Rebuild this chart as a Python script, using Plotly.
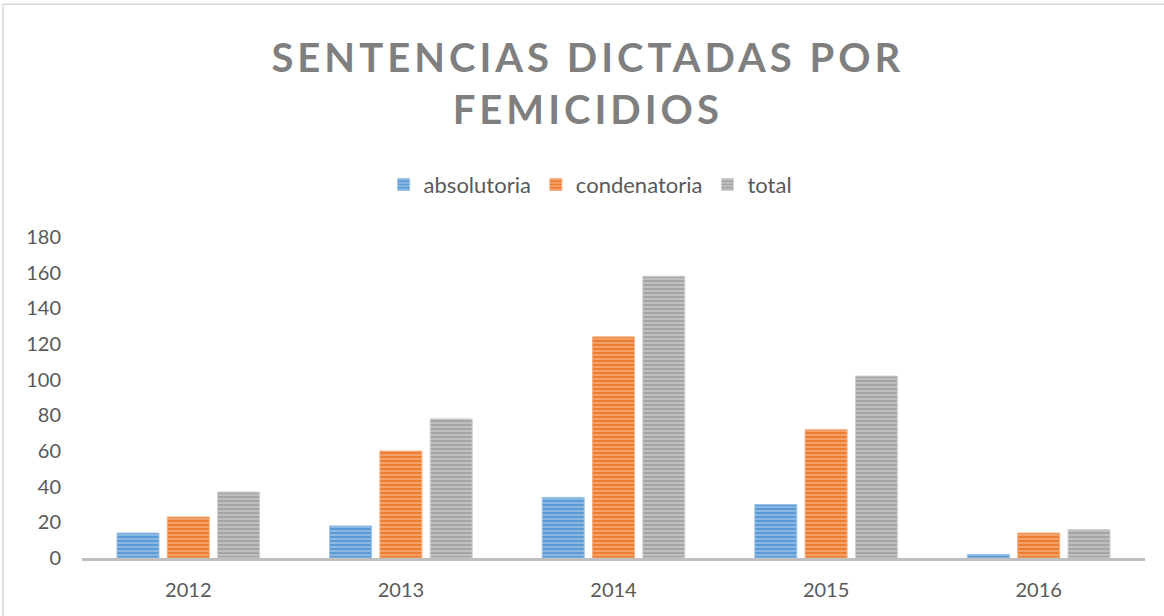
import plotly.graph_objects as go

years = ["2012", "2013", "2014", "2015", "2016"]
absolutoria = [14, 18, 34, 30, 2]
condenatoria = [23, 60, 124, 72, 14]
total = [37, 78, 158, 102, 16]

series = [
    ("absolutoria", absolutoria, "#5B9BD5", "#9DC3E6"),
    ("condenatoria", condenatoria, "#ED7D31", "#F4B183"),
    ("total", total, "#A5A5A5", "#D0D0D0"),
]

fig = go.Figure()
for name, vals, col, light in series:
    fig.add_trace(go.Bar(
        x=years, y=vals, name=name,
        marker=dict(
            color=col,
            line=dict(color=light, width=1),
            pattern=dict(shape="-", fgcolor="#FFFFFF", fgopacity=0.4, size=4, solidity=0.35),
        ),
    ))

FONT = "Lato, 'Open Sans', sans-serif"
fig.update_layout(
    width=1164, height=616,
    margin=dict(l=82, r=19, t=237, b=58),
    paper_bgcolor="white", plot_bgcolor="white",
    barmode="group", bargap=0.29, bargroupgap=0.165,
    title=dict(
        text="<b>SENTENCIAS DICTADAS POR<br>FEMICIDIOS</b>",
        font=dict(family=FONT, size=40, color="#7F7F7F"),
        x=0.505, xanchor="center", xref="container",
        y=1 - 72 / 616, yanchor="top", yref="container",
    ),
    legend=dict(
        orientation="h", x=0.478, xanchor="center", y=1.163, yanchor="middle",
        font=dict(family=FONT, size=22, color="#595959"),
        itemwidth=30, traceorder="normal",
    ),
    showlegend=True,
    xaxis=dict(
        showline=True, linecolor="#BFBFBF", linewidth=2.5,
        showgrid=False, ticks="", ticklabelstandoff=12,
        tickfont=dict(family=FONT, size=20, color="#595959"),
    ),
    yaxis=dict(
        range=[0, 180], dtick=20, showgrid=False, zeroline=False, showline=False,
        ticks="", ticklabelstandoff=20,
        tickfont=dict(family=FONT, size=20, color="#595959"),
    ),
    shapes=[
        dict(type="line", xref="paper", yref="paper",
             x0=(3 - 82) / 1063, x1=(1170 - 82) / 1063,
             y0=(557.7 - 5) / 320.4, y1=(557.7 - 5) / 320.4,
             line=dict(color="#D9D9D9", width=1.5)),
        dict(type="line", xref="paper", yref="paper",
             x0=(3 - 82) / 1063, x1=(3 - 82) / 1063,
             y0=(557.7 - 5) / 320.4, y1=(557.7 - 620) / 320.4,
             line=dict(color="#D9D9D9", width=1.5)),
    ],
)

post = (
    "document.body.style.margin='0';"
    "var g=document.getElementById('{plot_id}');"
    "g.querySelectorAll('.gtitle').forEach(function(e){e.style.letterSpacing='4px';});"
)
fig.write_html("out.html", post_script=post, config={"displayModeBar": False})
